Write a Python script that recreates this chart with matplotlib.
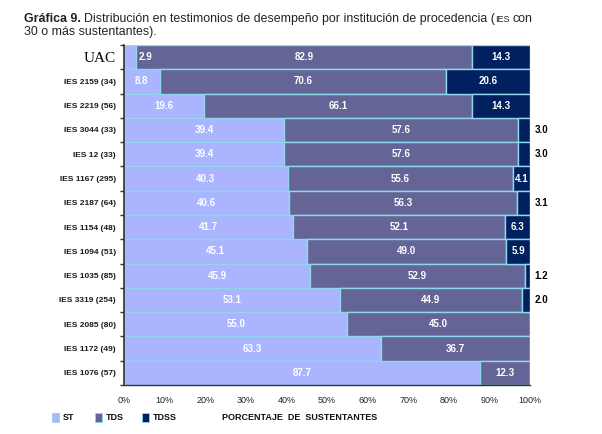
import matplotlib
matplotlib.use("Agg")
import matplotlib.pyplot as plt
import numpy as np

categories = ["UAC", "IES 2159 (34)", "IES 2219 (56)", "IES 3044 (33)", "IES 12 (33)",
              "IES 1167 (295)", "IES 2187 (64)", "IES 1154 (48)", "IES 1094 (51)",
              "IES 1035 (85)", "IES 3319 (254)", "IES 2085 (80)", "IES 1172 (49)",
              "IES 1076 (57)"]
st = [2.9, 8.8, 19.6, 39.4, 39.4, 40.3, 40.6, 41.7, 45.1, 45.9, 53.1, 55.0, 63.3, 87.7]
tds = [82.9, 70.6, 66.1, 57.6, 57.6, 55.6, 56.3, 52.1, 49.0, 52.9, 44.9, 45.0, 36.7, 12.3]
tdss = [14.3, 20.6, 14.3, 3.0, 3.0, 4.1, 3.1, 6.3, 5.9, 1.2, 2.0, 0, 0, 0]
series_names = ["ST", "TDS", "TDSS"]
xticklabels = ["0%", "10%", "20%", "30%", "40%", "50%", "60%", "70%", "80%", "90%", "100%"]

colors = ["#AAB4FF", "#646496", "#002060"]
edge = "#8FD8EA"

plt.rcParams['font.family'] = ['Liberation Sans', 'DejaVu Sans']

fig = plt.figure(figsize=(6.02, 4.34), dpi=100)
ax = fig.add_axes([124/602, 1-385/434, (530-124)/602, (385-45)/434])

y = np.arange(len(categories))
left = np.zeros(len(categories))
for vals, c in zip([st, tds, tdss], colors):
    v = np.array(vals, dtype=float)
    ax.barh(y, v, left=left, height=1.0, color=c, edgecolor=edge, linewidth=1.0)
    left = left + v

ax.set_xlim(0, 100)
ax.set_ylim(len(categories) - 0.5, -0.5)

fs_val = 7
for i in range(len(categories)):
    s, t, d = st[i], tds[i], tdss[i]
    if s < 5:
        ax.text(s + 0.8, i, f"{s:.1f}", color="white", fontsize=fs_val, fontweight="bold",
                ha="left", va="center")
    else:
        ax.text(s / 2, i, f"{s:.1f}", color="white", fontsize=fs_val, fontweight="bold",
                ha="center", va="center")
    ax.text(s + t / 2, i, f"{t:.1f}", color="white", fontsize=fs_val, fontweight="bold",
            ha="center", va="center")
    if d > 0:
        if d >= 4:
            ax.text(s + t + d / 2, i, f"{d:.1f}", color="white", fontsize=fs_val,
                    fontweight="bold", ha="center", va="center")
        else:
            ax.text(101.2, i, f"{d:.1f}", color="black", fontsize=fs_val,
                    fontweight="bold", ha="left", va="center", clip_on=False)

ax.set_yticks(y)
ax.set_yticklabels(categories)
for lbl in ax.get_yticklabels():
    if lbl.get_text() == "UAC":
        lbl.set_fontfamily(["Liberation Serif", "DejaVu Serif"])
        lbl.set_fontsize(11)
        lbl.set_fontweight("normal")
    else:
        lbl.set_fontsize(6)
        lbl.set_fontweight("bold")
        lbl.set_color("#1a1a1a")
ax.tick_params(axis="y", which="major", length=0, pad=6)
ax.set_yticks(np.arange(len(categories) + 1) - 0.5, minor=True)
ax.tick_params(axis="y", which="minor", length=3, width=1, direction="out", color="#333333")

ax.set_xticks(np.arange(0, 101, 10))
ax.set_xticklabels(xticklabels, fontsize=6.5, color="#222222")
ax.tick_params(axis="x", length=0, pad=8)

for sp in ["top", "right"]:
    ax.spines[sp].set_visible(False)
ax.spines["left"].set_color("#333333")
ax.spines["left"].set_linewidth(1.2)
ax.spines["bottom"].set_color("#333333")
ax.spines["bottom"].set_linewidth(1.0)

fig.text(300/602, 1 - 418/434, "PORCENTAJE  DE  SUSTENTANTES", fontsize=6.5,
         fontweight="bold", ha="center", va="center", color="#111111")

leg_x = [52, 95, 142]
for name, c, lx in zip(series_names, colors, leg_x):
    fig.patches.append(plt.Rectangle((lx/602, 1 - 422/434), 7/602, 9/434,
                                     transform=fig.transFigure, facecolor=c,
                                     edgecolor=edge, linewidth=0.6))
    fig.text((lx + 11)/602, 1 - 417/434, name, fontsize=6.5, fontweight="bold",
             ha="left", va="center", color="#111111")

fig.canvas.draw()
renderer = fig.canvas.get_renderer()
fs_t = 8.9
tx, ty = 24/602, 1 - 22/434
t1 = fig.text(tx, ty, "Gráfica 9.", fontsize=fs_t, fontweight="bold", ha="left",
              va="baseline", color="#222222")
bb = t1.get_window_extent(renderer)
x2 = (bb.x1 + 3) / fig.bbox.width
t2 = fig.text(x2, ty, "Distribución en testimonios de desempeño por institución de procedencia (",
              fontsize=fs_t, ha="left", va="baseline", color="#222222")
bb = t2.get_window_extent(renderer)
x3 = bb.x1 / fig.bbox.width
t3 = fig.text(x3, ty, "IES", fontsize=6.5, ha="left", va="baseline", color="#222222")
bb = t3.get_window_extent(renderer)
x4 = (bb.x1 + 3) / fig.bbox.width
fig.text(x4, ty, "con", fontsize=fs_t, ha="left", va="baseline", color="#222222")
fig.text(tx, 1 - 35/434, "30 o más sustentantes).", fontsize=fs_t, ha="left",
         va="baseline", color="#222222")

fig.savefig("out.png", dpi=100)
